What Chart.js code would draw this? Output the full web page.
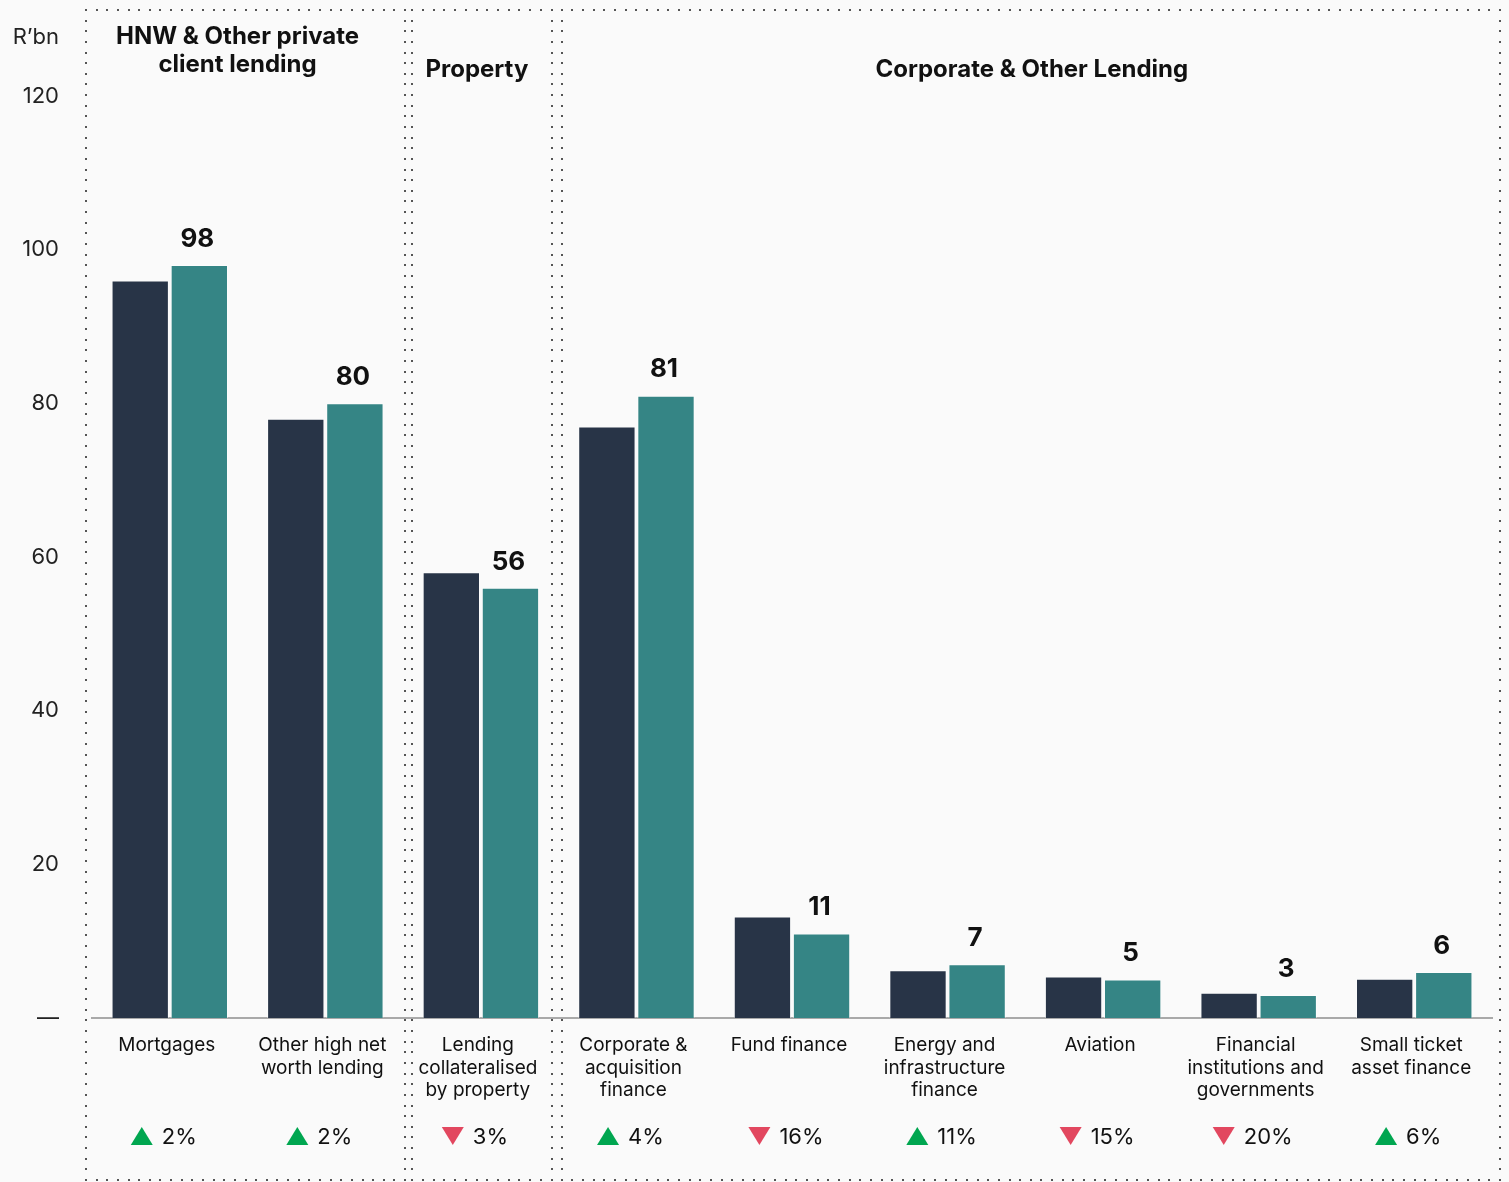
<!DOCTYPE html>
<html>
<head>
<meta charset="utf-8">
<script src="https://cdn.jsdelivr.net/npm/chart.js@4.4.1/dist/chart.umd.min.js"></script>
<style>
  html, body { margin: 0; padding: 0; background: #fafafa; }
  canvas { display: block; }
</style>
</head>
<body>
<canvas id="lendingChart" width="1509" height="1182"></canvas>
<script>
// categories and series (R'bn)
const categories = [
    ['Mortgages'],
    ['Other high net', 'worth lending'],
    ['Lending', 'collateralised', 'by property'],
    ['Corporate &', 'acquisition', 'finance'],
    ['Fund finance'],
    ['Energy and', 'infrastructure', 'finance'],
    ['Aviation'],
    ['Financial', 'institutions and', 'governments'],
    ['Small ticket', 'asset finance']
];
const priorValues = [96, 78, 58, 77, 13.2, 6.2, 5.4, 3.3, 5.1];
const currentValues = [98, 80, 56, 81, 11, 7, 5, 3, 6];
const changePct = [2, 2, -3, 4, -16, 11, -15, -20, 6];
const yTicks = [0, 20, 40, 60, 80, 100, 120];
const groupTitles = [['HNW & Other private', 'client lending'], ['Property'], ['Corporate & Other Lending']];
const titleNudge = [-8, -5, 1];

const DARK = '#283447';
const TEAL = '#358585';

Chart.defaults.font.family = 'Inter, "Noto Sans", sans-serif';
Chart.defaults.color = '#1a1a1a';

// dotted rectangle, drawn as small square dots
function dotLine(ctx, x1, y1, x2, y2, step) {
    const len = Math.hypot(x2 - x1, y2 - y1);
    const n = Math.floor(len / step);
    for (let i = 0; i <= n; i++) {
        const t = n ? i / n : 0;
        ctx.fillRect(Math.round(x1 + (x2 - x1) * t) - 1, Math.round(y1 + (y2 - y1) * t) - 1, 2, 2);
    }
}
function dotBox(ctx, l, t, r, b) {
    dotLine(ctx, l, t, r, t, 10.6);
    dotLine(ctx, l, b, r, b, 10.6);
    dotLine(ctx, l, t, l, b, 10.6);
    dotLine(ctx, r, t, r, b, 10.6);
}

const decorPlugin = {
    id: 'decor',
    beforeDraw(chart) {
        const { ctx, chartArea, scales } = chart;
        const x = scales.x;
        ctx.save();
        ctx.fillStyle = '#fafafa';
        ctx.fillRect(0, 0, chart.width, chart.height);

        const b1 = (x.getPixelForValue(1) + x.getPixelForValue(2)) / 2;
        const b2 = (x.getPixelForValue(2) + x.getPixelForValue(3)) / 2;
        const top = 10, bottom = 1180;
        const boxes = [
            [chartArea.left - 6, b1 + 2],
            [b1 + 9, b2 - 7],
            [b2 + 3, chartArea.right + 8]
        ];
        ctx.fillStyle = '#555';
        boxes.forEach(([l, r]) => dotBox(ctx, l, top, r, bottom));

        // group headings
        ctx.fillStyle = '#111';
        ctx.font = 'bold 24px Inter, sans-serif';
        ctx.textAlign = 'center';
        ctx.textBaseline = 'middle';
        groupTitles.forEach((lines, i) => {
            const [l, r] = boxes[i];
            const cx = (l + r) / 2 + titleNudge[i];
            const y0 = lines.length > 1 ? 37 : 70;
            lines.forEach((s, k) => ctx.fillText(s, cx, y0 + k * 28));
        });

        // unit label
        ctx.font = '22px Inter, sans-serif';
        ctx.textAlign = 'right';
        ctx.fillStyle = '#222';
        ctx.fillText('R\u2019bn', 59, 37);
        ctx.restore();
    },
    afterDatasetsDraw(chart) {
        const { ctx, scales } = chart;
        const x = scales.x;
        ctx.save();
        // value labels over the current-year bars
        const meta = chart.getDatasetMeta(1);
        ctx.fillStyle = '#111';
        ctx.font = 'bold 26px Inter, sans-serif';
        ctx.textAlign = 'center';
        ctx.textBaseline = 'middle';
        meta.data.forEach((bar, i) => {
            ctx.fillText(String(currentValues[i]), bar.x - 2, bar.y - 26);
        });

        // year-on-year change row
        ctx.font = '22px Inter, sans-serif';
        ctx.textAlign = 'left';
        changePct.forEach((p, i) => {
            const txt = Math.abs(p) + '%';
            const tw = ctx.measureText(txt).width;
            const triW = 22, gap = 9;
            const cx = x.getPixelForValue(i) - 6;
            const left = cx - (triW + gap + tw) / 2;
            const cy = 1136;
            ctx.beginPath();
            if (p >= 0) {
                ctx.fillStyle = '#00a650';
                ctx.moveTo(left, cy + 9);
                ctx.lineTo(left + triW, cy + 9);
                ctx.lineTo(left + triW / 2, cy - 9);
            } else {
                ctx.fillStyle = '#e2475f';
                ctx.moveTo(left, cy - 9);
                ctx.lineTo(left + triW, cy - 9);
                ctx.lineTo(left + triW / 2, cy + 9);
            }
            ctx.closePath();
            ctx.fill();
            ctx.fillStyle = '#111';
            ctx.fillText(txt, left + triW + gap, cy + 1);
        });
        ctx.restore();
    }
};

new Chart(document.getElementById('lendingChart'), {
    type: 'bar',
    data: {
        labels: categories,
        datasets: [
            {
                label: 'Prior',
                data: priorValues,
                backgroundColor: DARK,
                borderColor: 'rgba(255,255,255,0.45)',
                borderWidth: 1,
                categoryPercentage: 0.76,
                barPercentage: 0.97
            },
            {
                label: 'Current',
                data: currentValues,
                backgroundColor: TEAL,
                borderColor: 'rgba(255,255,255,0.45)',
                borderWidth: 1,
                categoryPercentage: 0.76,
                barPercentage: 0.97
            }
        ]
    },
    options: {
        responsive: false,
        devicePixelRatio: 1,
        animation: false,
        layout: { padding: { top: 96, right: 17, left: 0, bottom: 0 } },
        plugins: { legend: { display: false }, tooltip: { enabled: false } },
        scales: {
            x: {
                grid: { display: false, drawTicks: false },
                border: { display: true, color: '#a9a9a9', width: 2 },
                ticks: {
                    color: '#111',
                    padding: 16,
                    labelOffset: -3,
                    maxRotation: 0,
                    autoSkip: false,
                    font: { size: 19, lineHeight: 1.19 }
                },
                afterFit(scale) { scale.height = 164; }
            },
            y: {
                min: 0,
                max: 120,
                grid: { display: false, drawTicks: false },
                border: { display: false },
                afterBuildTicks(scale) { scale.ticks = yTicks.map(v => ({ value: v })); },
                ticks: {
                    color: '#222',
                    padding: 33,
                    font: { size: 22 },
                    callback: v => (v === 0 ? '\u2014' : v)
                },
                afterFit(scale) { scale.width = 92; }
            }
        }
    },
    plugins: [decorPlugin]
});
</script>
</body>
</html>
